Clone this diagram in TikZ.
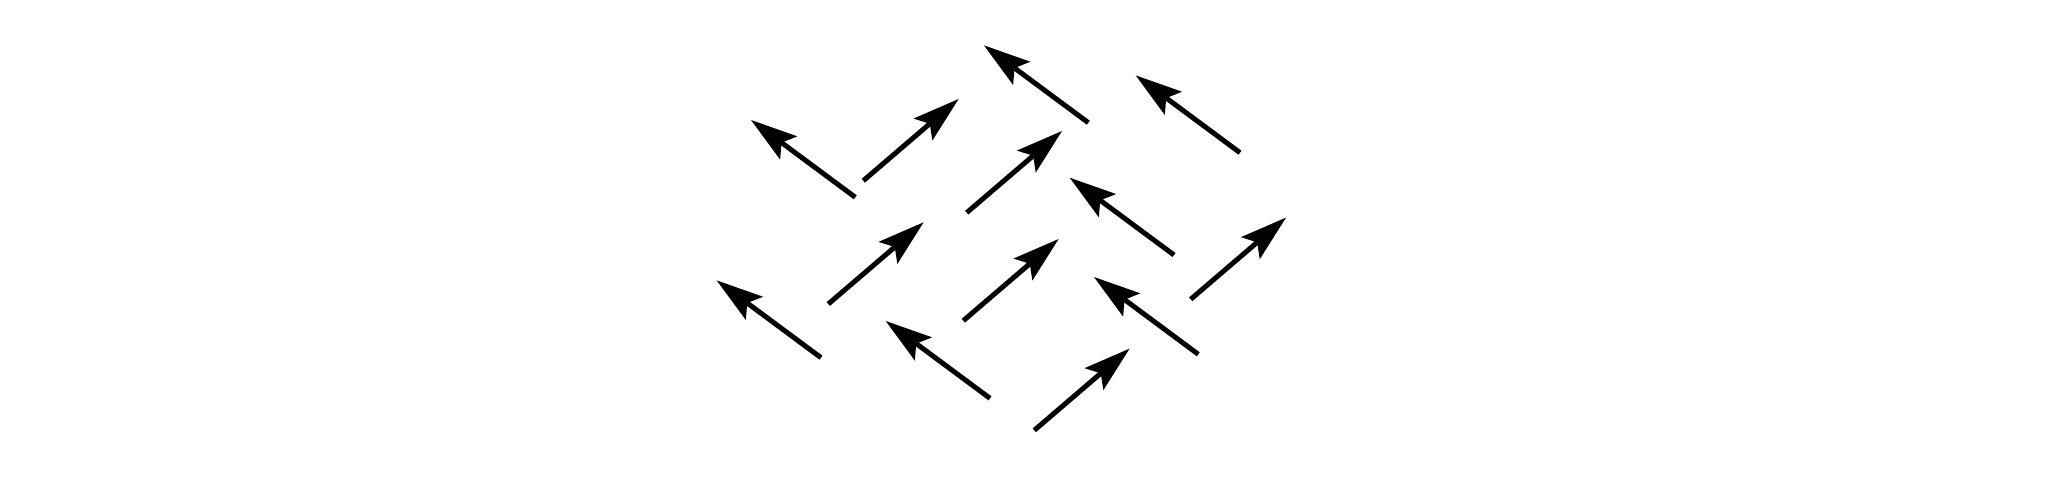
\documentclass[tikz,border=0pt]{standalone}
\usetikzlibrary{arrows.meta}
\tikzset{
  spin/.style={line width=5pt, line cap=butt, -{Stealth[length=47pt, width=29pt, inset=9pt, line width=0pt]}},
}
\begin{document}
\begin{tikzpicture}[x=1pt,y=-1pt]
\useasboundingbox[fill=white] (0,0) rectangle (2064,492);
% up-left spins: tails
\coordinate (a1) at (855.3,197.3);
\coordinate (a2) at (1088.3,122.7);
\coordinate (a3) at (1240,152.7);
\coordinate (a4) at (1174,255);
\coordinate (a5) at (821,357.7);
\coordinate (a6) at (990,398.3);
\coordinate (a7) at (1198.3,354.3);
% up-right spins: tails
\coordinate (b1) at (863.3,180.7);
\coordinate (b2) at (966.7,212.7);
\coordinate (b3) at (828.3,304);
\coordinate (b4) at (963.3,320.7);
\coordinate (b5) at (1190.7,299.3);
\coordinate (b6) at (1034.3,430.3);
% tips
\foreach \n in {a1,a2,a3,a4,a5,a6,a7}{
  \path (\n) ++(-104.3,-77.3) coordinate (\n h);
  \draw[spin] (\n) -- (\n h);
}
\foreach \n in {b1,b2,b3,b4,b5,b6}{
  \path (\n) ++(95.3,-81.7) coordinate (\n h);
  \draw[spin] (\n) -- (\n h);
}
\end{tikzpicture}
\end{document}
